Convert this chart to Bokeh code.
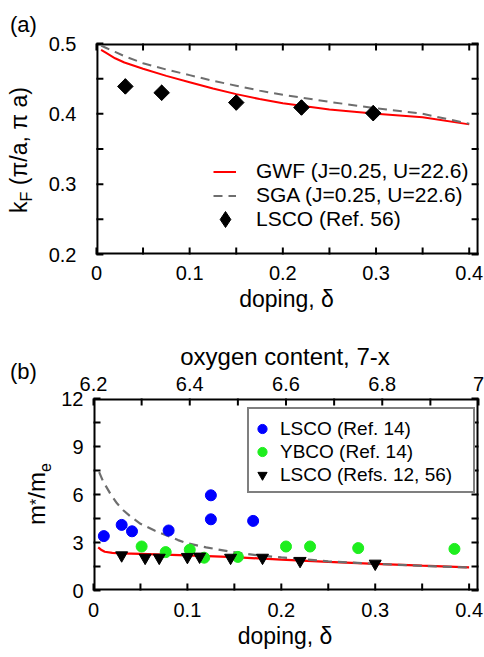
import numpy as np
from bokeh.plotting import figure
from bokeh.models import Range1d, LinearAxis, FixedTicker, Legend, LegendItem, Div
from bokeh.layouts import column, row
from bokeh.embed import file_html
from bokeh.resources import INLINE

FONT = "Liberation Sans"

# ---------------- panel (a): Fermi wave vector ----------------
a_doping_gwf = [0.005, 0.01, 0.02, 0.03, 0.05, 0.075, 0.1, 0.125, 0.15, 0.175, 0.2, 0.25, 0.3, 0.35, 0.4]
a_kf_gwf = [0.491, 0.487, 0.479, 0.473, 0.464, 0.454, 0.445, 0.436, 0.428, 0.421, 0.415, 0.406, 0.400, 0.395, 0.385]
a_doping_sga = [0.005, 0.01, 0.02, 0.03, 0.05, 0.075, 0.1, 0.125, 0.15, 0.175, 0.2, 0.25, 0.3, 0.35, 0.4]
a_kf_sga = [0.497, 0.494, 0.488, 0.482, 0.472, 0.463, 0.455, 0.447, 0.440, 0.433, 0.427, 0.417, 0.408, 0.400, 0.386]
a_doping_lsco = [0.031, 0.070, 0.150, 0.220, 0.297]
a_kf_lsco = [0.439, 0.430, 0.416, 0.409, 0.401]

doping_ticks = [0, 0.1, 0.2, 0.3, 0.4]
doping_tick_labels = ["0", "0.1", "0.2", "0.3", "0.4"]
doping_minor = [0.05, 0.15, 0.25, 0.35]
kf_ticks = [0.2, 0.3, 0.4, 0.5]
kf_tick_labels = ["0.2", "0.3", "0.4", "0.5"]
kf_minor = [0.25, 0.35, 0.45]

# ---------------- panel (b): effective mass ----------------
b_doping_gwf = [0.005, 0.008, 0.012, 0.02, 0.03, 0.05, 0.1, 0.15, 0.2, 0.25, 0.3, 0.35, 0.4]
b_mass_gwf = [2.70, 2.55, 2.42, 2.35, 2.32, 2.29, 2.19, 2.08, 1.93, 1.79, 1.67, 1.55, 1.45]
b_doping_sga = [0.006, 0.01, 0.018, 0.025, 0.032, 0.04, 0.05, 0.065, 0.078, 0.09, 0.1, 0.12,
                0.146, 0.175, 0.2, 0.25, 0.3, 0.35, 0.4]
b_mass_sga = [7.4, 6.85, 6.04, 5.45, 5.0, 4.6, 4.17, 3.75, 3.44, 3.15, 2.95, 2.7,
              2.42, 2.2, 2.07, 1.82, 1.67, 1.54, 1.44]
lsco14_doping = [0.011, 0.030, 0.041, 0.080, 0.125, 0.125, 0.170]
lsco14_mass = [3.4, 4.1, 3.7, 3.75, 5.95, 4.45, 4.35]
ybco_oxygen = [6.30, 6.35, 6.40, 6.43, 6.50, 6.60, 6.65, 6.75, 6.95]
ybco_mass = [2.75, 2.4, 2.55, 2.05, 2.1, 2.75, 2.75, 2.65, 2.6]
lsco_refs_doping = [0.030, 0.055, 0.070, 0.100, 0.113, 0.146, 0.180, 0.220, 0.300]
lsco_refs_mass = [2.2, 2.05, 2.05, 2.1, 2.12, 2.05, 2.05, 1.85, 1.68]

mass_ticks = [0, 3, 6, 9, 12]
mass_tick_labels = ["0", "3", "6", "9", "12"]
mass_minor = [1.5, 4.5, 7.5, 10.5]
oxygen_ticks = [6.2, 6.4, 6.6, 6.8, 7.0]
oxygen_tick_labels = ["6.2", "6.4", "6.6", "6.8", "7"]
oxygen_minor = [6.3, 6.5, 6.7, 6.9]

# axis extents of the drawn box
DOPING_LIM = (0.0, 0.41)
KF_LIM = (0.2, 0.5)
MASS_LIM = (0.0, 12.0)
OXY_LIM = (6.2, 7.0)

RED = "#ff0000"
GREY = "#6e6e6e"
BLUE = "#0000ff"
GREEN = "#1eee1e"
INK = "#000000"
TICK_LEN = 7          # px
TICK_W = 2            # px
EDGE_W = 2            # px
BOX_W = 385           # px, width of the drawn box
BOX_H_A = 211         # px
BOX_H_B = 192         # px
PAD = 8               # px, plot frame extends this far beyond the drawn box
PAD_R = 6             # px, on the right side


def padded(lim, box_px, lo_px, hi_px):
    u = (lim[1] - lim[0]) / box_px
    return Range1d(lim[0] - lo_px * u, lim[1] + hi_px * u)


def style_axis(ax, ticks, minor, labels, standoff):
    ax.ticker = FixedTicker(ticks=ticks, minor_ticks=minor)
    ax.axis_line_color = None
    ax.major_tick_line_color = None
    ax.minor_tick_line_color = None
    ax.major_tick_in = 0
    ax.major_tick_out = 0
    ax.minor_tick_in = 0
    ax.minor_tick_out = 0
    ax.major_label_text_font = FONT
    ax.major_label_text_font_size = "20px"
    ax.major_label_text_color = "black"
    ax.major_label_standoff = standoff
    ax.major_label_overrides = {t: l for t, l in zip(ticks, labels)}


def style_axis_label(ax, text, standoff, size="23px"):
    ax.axis_label = text
    ax.axis_label_text_font = FONT
    ax.axis_label_text_font_size = size
    ax.axis_label_text_font_style = "normal"
    ax.axis_label_text_color = "black"
    ax.axis_label_standoff = standoff


def box_and_ticks(p, xl, yl, box_h, bottom_ticks, top_ticks, side_ticks):
    """Box border and inward ticks as filled bars inside the plot frame."""
    px = (xl[1] - xl[0]) / BOX_W
    py = (yl[1] - yl[0]) / box_h
    L, R, B, T = [], [], [], []

    def bar(l, r, b, t):
        L.append(l); R.append(r); B.append(b); T.append(t)

    bar(xl[0], xl[0] + px * EDGE_W, yl[0], yl[1])
    bar(xl[1] - px * EDGE_W, xl[1], yl[0], yl[1])
    bar(xl[0], xl[1], yl[0], yl[0] + py * EDGE_W)
    bar(xl[0], xl[1], yl[1] - py * EDGE_W, yl[1])
    for t in bottom_ticks:
        bar(t - px * TICK_W / 2, t + px * TICK_W / 2, yl[0], yl[0] + py * TICK_LEN)
    for t in top_ticks:
        bar(t - px * TICK_W / 2, t + px * TICK_W / 2, yl[1] - py * TICK_LEN, yl[1])
    for t in side_ticks:
        bar(xl[0], xl[0] + px * TICK_LEN, t - py * TICK_W / 2, t + py * TICK_W / 2)
        bar(xl[1] - px * TICK_LEN, xl[1], t - py * TICK_W / 2, t + py * TICK_W / 2)
    p.quad(left=L, right=R, bottom=B, top=T, fill_color=INK, line_color=None)


def make_fig(width, height, left, top, bottom, x_range, y_range, extra=None):
    kw = {}
    if extra:
        kw["extra_x_ranges"] = extra
    p = figure(width=width, height=height, x_range=x_range, y_range=y_range,
               output_backend="svg", toolbar_location=None,
               min_border_left=left, min_border_right=0,
               min_border_top=top, min_border_bottom=bottom, **kw)
    p.xgrid.visible = False
    p.ygrid.visible = False
    p.outline_line_color = None
    p.background_fill_color = "white"
    p.border_fill_color = "white"
    return p


BOX = "position:relative;width:{w}px;height:{h}px;font-family:'Liberation Sans',sans-serif;color:black;"
ABS = "position:absolute;white-space:nowrap;line-height:1;"

# ================= panel (a) =================
xr_a = padded(DOPING_LIM, BOX_W, PAD, PAD_R)
yr_a = padded(KF_LIM, BOX_H_A, PAD, PAD)
pa = make_fig(439, 330, 48 - PAD, 43 - PAD, 76 - PAD, xr_a, yr_a)
box_and_ticks(pa, DOPING_LIM, KF_LIM, BOX_H_A, doping_ticks + doping_minor,
              doping_ticks + doping_minor, kf_ticks + kf_minor)
r_gwf_a = pa.line(a_doping_gwf, a_kf_gwf, line_color=RED, line_width=2)
r_sga_a = pa.line(a_doping_sga, a_kf_sga, line_color=GREY, line_width=2, line_dash="9 6")
pa.scatter(a_doping_lsco, a_kf_lsco, marker="square", angle=np.pi / 4, size=11,
           fill_color="black", line_color="black")
r_lsco_a = pa.scatter(a_doping_lsco, a_kf_lsco, marker="diamond", size=15,
                      fill_color="black", line_color="black")

style_axis(pa.below[0], doping_ticks, doping_minor, doping_tick_labels, 11 - PAD)
style_axis_label(pa.below[0], "doping, δ", 3)
style_axis(pa.left[0], kf_ticks, kf_minor, kf_tick_labels, 20 - PAD)

leg_a1 = Legend(items=[LegendItem(label="GWF (J=0.25, U=22.6)", renderers=[r_gwf_a]),
                       LegendItem(label="SGA (J=0.25, U=22.6)", renderers=[r_sga_a])],
                location=(117 + PAD, 47 + PAD), orientation="vertical", border_line_color=None,
                background_fill_alpha=0, padding=0, margin=0, spacing=0,
                glyph_width=23, glyph_height=23, label_height=23, label_standoff=20,
                label_text_font=FONT, label_text_font_size="21px", label_text_color="black")
leg_a2 = Legend(items=[LegendItem(label="LSCO (Ref. 56)", renderers=[r_lsco_a])],
                location=(109 + PAD, 15 + PAD), orientation="vertical", border_line_color=None,
                background_fill_alpha=0, padding=0, margin=0, spacing=0,
                glyph_width=40, glyph_height=40, label_height=23, label_standoff=11,
                label_text_font=FONT, label_text_font_size="21px", label_text_color="black")
pa.add_layout(leg_a1)
pa.add_layout(leg_a2)

div_a = Div(width=45, height=330, margin=0, text=(
    f'<div style="{BOX.format(w=45, h=330)}">'
    f'<div style="{ABS}left:10px;top:14px;font-size:22px;">(a)</div>'
    f'<div style="{ABS}left:19px;top:150px;font-size:23px;'
    f'transform:translate(-50%,-50%) rotate(-90deg);">'
    f'k<span style="font-size:16px;vertical-align:-5px;line-height:0;">F</span> (π/a, π a)</div>'
    f'</div>'))

# ================= panel (b) =================
xr_b = padded(DOPING_LIM, BOX_W, PAD, PAD_R)
yr_b = padded(MASS_LIM, BOX_H_B, PAD, PAD)
oxy = padded(OXY_LIM, BOX_W, PAD, PAD_R)
pb = make_fig(428, 327, 37 - PAD, 68 - PAD, 67 - PAD, xr_b, yr_b, extra={"oxy": oxy})
# oxygen-axis tick positions expressed on the doping scale of the box
oxy_on_doping = [DOPING_LIM[0] + (o - OXY_LIM[0]) * (DOPING_LIM[1] - DOPING_LIM[0]) /
                 (OXY_LIM[1] - OXY_LIM[0]) for o in oxygen_ticks + oxygen_minor]
box_and_ticks(pb, DOPING_LIM, MASS_LIM, BOX_H_B, doping_ticks + doping_minor, oxy_on_doping,
              mass_ticks + mass_minor)
pb.line(b_doping_gwf, b_mass_gwf, line_color=RED, line_width=2.2)
pb.line(b_doping_sga, b_mass_sga, line_color=GREY, line_width=2.2, line_dash="9 6")
r_lsco14 = pb.scatter(lsco14_doping, lsco14_mass, marker="circle", size=11,
                      fill_color=BLUE, line_color=BLUE)
r_ybco = pb.scatter(ybco_oxygen, ybco_mass, marker="circle", size=11,
                    fill_color=GREEN, line_color=GREEN, x_range_name="oxy")
r_refs = pb.scatter(lsco_refs_doping, lsco_refs_mass, marker="inverted_triangle", size=12,
                    fill_color="black", line_color="black")

style_axis(pb.below[0], doping_ticks, doping_minor, doping_tick_labels, 12 - PAD)
style_axis_label(pb.below[0], "doping, δ", 3)
style_axis(pb.left[0], mass_ticks, mass_minor, mass_tick_labels, 10 - PAD)
top_b = LinearAxis(x_range_name="oxy")
style_axis(top_b, oxygen_ticks, oxygen_minor, oxygen_tick_labels, max(0, 8 - PAD))
style_axis_label(top_b, "oxygen content, 7-x", 4, "24px")
pb.add_layout(top_b, "above")

leg_b = Legend(items=[LegendItem(label="LSCO (Ref. 14)", renderers=[r_lsco14]),
                      LegendItem(label="YBCO (Ref. 14)", renderers=[r_ybco]),
                      LegendItem(label="LSCO (Refs. 12, 56)", renderers=[r_refs])],
               location=(154 + PAD, 97 + PAD), orientation="vertical",
               border_line_color=INK, border_line_width=2,
               background_fill_color="white", background_fill_alpha=1,
               padding=(0, 6, 8, 5), margin=0, spacing=0,
               glyph_width=26, glyph_height=23, label_height=23, label_standoff=5,
               label_width=187,
               label_text_font=FONT, label_text_font_size="19px", label_text_color="black")
pb.add_layout(leg_b)

div_b = Div(width=56, height=327, margin=0, text=(
    f'<div style="{BOX.format(w=56, h=327)}">'
    f'<div style="{ABS}left:10px;top:31px;font-size:22px;">(b)</div>'
    f'<div style="{ABS}left:37px;top:164px;font-size:24px;'
    f'transform:translate(-50%,-50%) rotate(-90deg);">'
    f'm<span style="font-size:16px;vertical-align:3px;line-height:0;">*</span>/m'
    f'<span style="font-size:16px;vertical-align:-6px;line-height:0;">e</span></div>'
    f'</div>'))

layout = column(row(div_a, pa, spacing=0), row(div_b, pb, spacing=0), spacing=0)
open("out.html", "w").write(file_html(layout, INLINE))
